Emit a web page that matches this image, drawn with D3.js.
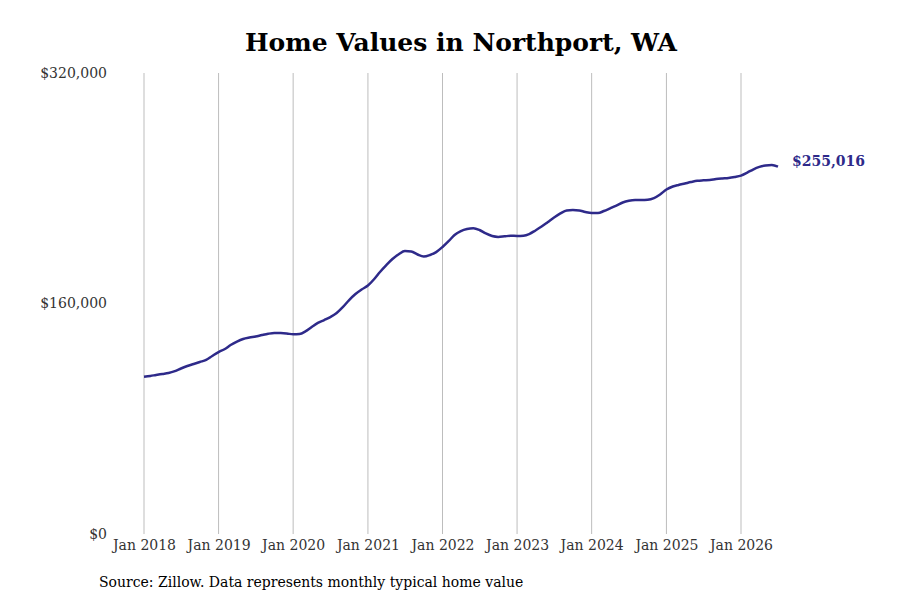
<!DOCTYPE html>
<html>
<head>
<meta charset="utf-8">
<script src="https://cdn.jsdelivr.net/npm/d3@7"></script>
<style>
  body { margin: 0; background: #fff; }
  svg { font-family: "DejaVu Serif", serif; }
  .axis text { fill: #333; font-size: 14px; font-family: "DejaVu Serif", serif; }
</style>
</head>
<body>
<svg id="chart" width="900" height="600"></svg>
<script>
// Monthly typical home value, Jan 2018 .. Jul 2026
const startMonth = '2018-01';
const homeValues = [
  109200, 109700, 110400, 111100, 111800, 113100, 114900, 116600, 118000, 119400, 120800, 123600,
  126300, 128400, 131200, 133600, 135400, 136400, 137100, 138100, 139000, 139500, 139500, 139200,
  138600, 138800, 140600, 143700, 146500, 148500, 150600, 153400, 157600, 162400, 166600, 169700,
  172500, 177000, 181900, 186700, 190900, 194200, 196400, 196100, 194000, 192600, 193700, 195700,
  199200, 203400, 207600, 210300, 211700, 212200, 211000, 208600, 206800, 206200, 206600, 207000,
  206900, 207100, 208200, 210700, 213400, 216600, 219700, 222500, 224600, 224900, 224600, 223500,
  222800, 222800, 224200, 226100, 228000, 230100, 231300, 231800, 231800, 232000, 233200, 235700,
  239100, 241200, 242300, 243300, 244300, 245200, 245500, 245700, 246400, 246800, 247100, 247800,
  248800, 250900, 253000, 254800, 255800, 256200, 255016
];
const yTicks = [0, 160000, 320000];
const xTickYears = [2018, 2019, 2020, 2021, 2022, 2023, 2024, 2025, 2026];

const H = 600;
const MARGIN = { top: 73, bottom: 66 };
const lineColor = '#2e2a8a';

const parseMonth = d3.timeParse('%Y-%m');
const t0 = parseMonth(startMonth);
const data = homeValues.map((v, i) => ({ date: d3.timeMonth.offset(t0, i), value: v }));

const svg = d3.select('#chart');

const x = d3.scaleTime()
  .domain([new Date(2018, 0, 1), new Date(2026, 0, 1)])
  .range([144, 741]);
const y = d3.scaleLinear()
  .domain([0, 320000])
  .range([H - MARGIN.bottom, MARGIN.top]);

// title
svg.append('text')
  .attr('x', 461).attr('y', 51)
  .attr('text-anchor', 'middle')
  .attr('font-size', 25).attr('font-weight', 'bold')
  .attr('fill', '#000')
  .text('Home Values in Northport, WA');

// vertical grid
const xTicks = xTickYears.map(yr => new Date(yr, 0, 1));
svg.append('g')
  .selectAll('line')
  .data(xTicks)
  .join('line')
  .attr('x1', d => x(d)).attr('x2', d => x(d))
  .attr('y1', y(320000)).attr('y2', y(0))
  .attr('stroke', '#bdbdbd').attr('stroke-width', 1);

// x axis
svg.append('g')
  .attr('class', 'axis')
  .attr('transform', `translate(0,${y(0)})`)
  .call(d3.axisBottom(x).tickValues(xTicks).tickSize(0).tickPadding(6)
    .tickFormat(d3.timeFormat('Jan %Y')))
  .call(a => a.attr('font-family', null))
  .call(a => a.select('.domain').remove());

// y axis
svg.append('g')
  .attr('class', 'axis')
  .attr('transform', 'translate(115,0)')
  .call(d3.axisLeft(y).tickValues(yTicks).tickSize(0).tickPadding(8)
    .tickFormat(d => '$' + d3.format(',')(d)))
  .call(a => a.attr('font-family', null))
  .call(a => a.select('.domain').remove());

// line
svg.append('path')
  .datum(data)
  .attr('fill', 'none')
  .attr('stroke', lineColor)
  .attr('stroke-width', 2.5)
  .attr('stroke-linejoin', 'round')
  .attr('d', d3.line().x(d => x(d.date)).y(d => y(d.value)).curve(d3.curveMonotoneX));

// end label
const last = data[data.length - 1];
svg.append('text')
  .attr('x', x(last.date) + 14).attr('y', y(last.value) - 6)
  .attr('dy', '0.35em')
  .attr('font-size', 14).attr('font-weight', 'bold')
  .attr('fill', lineColor)
  .text('$' + d3.format(',')(last.value));

// source
svg.append('text')
  .attr('x', 99).attr('y', 587)
  .attr('font-size', 14).attr('fill', '#000')
  .text('Source: Zillow. Data represents monthly typical home value');
</script>
</body>
</html>
